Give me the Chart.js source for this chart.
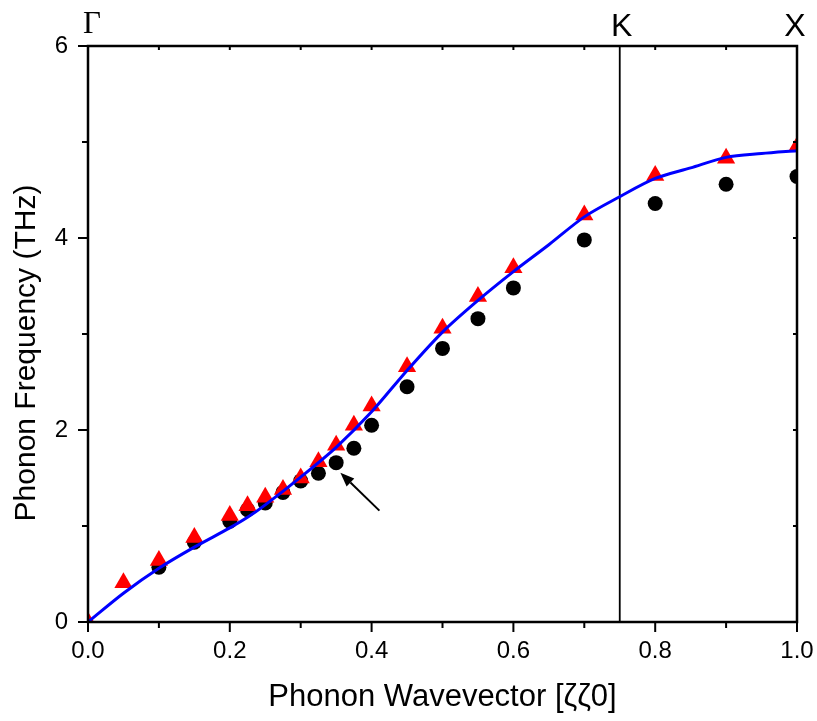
<!DOCTYPE html>
<html>
<head>
<meta charset="utf-8">
<script src="https://cdn.jsdelivr.net/npm/chart.js@4.4.0/dist/chart.umd.min.js"></script>
<style>
  body { margin: 0; background: #fff; }
  #wrap { width: 817px; height: 721px; }
</style>
</head>
<body>
<div id="wrap"><canvas id="phononChart"></canvas></div>
<script>
// Datos (THz vs ζ)
const circleQ    = [0.1, 0.15, 0.2, 0.225, 0.25, 0.275, 0.3, 0.325, 0.35, 0.375, 0.4, 0.45, 0.5, 0.55, 0.6, 0.7, 0.8, 0.9, 1.0];
const circleFreq = [0.57, 0.83, 1.05, 1.17, 1.24, 1.35, 1.47, 1.55, 1.66, 1.81, 2.05, 2.45, 2.85, 3.16, 3.48, 3.98, 4.36, 4.56, 4.64];

const triangleQ    = [0, 0.05, 0.1, 0.15, 0.2, 0.225, 0.25, 0.275, 0.3, 0.325, 0.35, 0.375, 0.4, 0.45, 0.5, 0.55, 0.6, 0.7, 0.8, 0.9, 1.0];
const triangleFreq = [0, 0.41, 0.64, 0.88, 1.11, 1.21, 1.30, 1.38, 1.50, 1.67, 1.84, 2.05, 2.25, 2.66, 3.06, 3.39, 3.69, 4.24, 4.65, 4.83, 4.95];

const curveQ    = [0, 0.05, 0.1, 0.15, 0.2, 0.225, 0.25, 0.3, 0.35, 0.4, 0.45, 0.5, 0.55, 0.6, 0.65, 0.7, 0.75, 0.8, 0.85, 0.9, 0.95, 1.0];
const curveFreq = [0, 0.30, 0.56, 0.78, 0.98, 1.09, 1.22, 1.51, 1.82, 2.19, 2.62, 3.02, 3.35, 3.65, 3.93, 4.22, 4.43, 4.62, 4.73, 4.84, 4.88, 4.91];

// Línea vertical en el punto K
const kLineQ    = [0.75, 0.75];
const kLineFreq = [0, 6];

// Ejes
const xTickValues = [0, 0.2, 0.4, 0.6, 0.8, 1.0];
const yTickValues = [0, 2, 4, 6];
const yTitle = 'Phonon Frequency (THz)';

// Puntos de simetría y flecha
const symmetryLabels = ['Γ', 'K', 'X'];
const symmetryQ      = [0, 0.75, 1.0];
const arrowTail = [0.411, 1.16];
const arrowHead = [0.356, 1.555];

const SANS = '"Liberation Sans", Arial, sans-serif';
const SERIF = '"Liberation Serif", "Times New Roman", serif';

const toPoints = (xs, ys) => xs.map((v, i) => ({ x: v, y: ys[i] }));

// Marco, ticks, título Y, etiquetas de simetría y flecha
const framePlugin = {
    id: 'framePlugin',
    afterDraw(chart) {
        const { ctx, chartArea: a, scales: { x, y } } = chart;
        ctx.save();
        ctx.strokeStyle = '#000';
        ctx.fillStyle = '#000';

        // ticks
        ctx.lineWidth = 2;
        ctx.beginPath();
        for (let i = 0; i <= 10; i++) {
            const px = x.getPixelForValue(i / 10);
            const len = i % 2 === 0 ? 10 : 6;
            ctx.moveTo(px, a.bottom); ctx.lineTo(px, a.bottom + len);
            ctx.moveTo(px, a.top); ctx.lineTo(px, a.top + 4);
        }
        for (let j = 0; j <= 6; j++) {
            const py = y.getPixelForValue(j);
            const len = j % 2 === 0 ? 10 : 6;
            ctx.moveTo(a.left, py); ctx.lineTo(a.left - len, py);
            ctx.moveTo(a.right, py); ctx.lineTo(a.right - 4, py);
        }
        ctx.stroke();

        // marco
        ctx.lineWidth = 2.5;
        ctx.strokeRect(a.left, a.top, a.right - a.left, a.bottom - a.top);

        // título del eje Y (algo por debajo del centro, como en el original)
        ctx.save();
        ctx.translate(27, 353);
        ctx.rotate(-Math.PI / 2);
        ctx.font = '30px ' + SANS;
        ctx.textAlign = 'center';
        ctx.textBaseline = 'middle';
        ctx.fillText(yTitle, 0, 0);
        ctx.restore();

        // Γ, K, X
        ctx.textBaseline = 'alphabetic';
        symmetryLabels.forEach((lab, i) => {
            const px = x.getPixelForValue(symmetryQ[i]);
            if (lab === 'Γ') {
                ctx.font = '31px ' + SERIF;
                ctx.textAlign = 'left';
                ctx.fillText(lab, px - 5, 33);
            } else {
                ctx.font = '32px ' + SANS;
                ctx.textAlign = 'center';
                ctx.fillText(lab, px + (i === 2 ? -2 : 2), 36);
            }
        });

        // flecha
        const tx = x.getPixelForValue(arrowTail[0]), ty = y.getPixelForValue(arrowTail[1]);
        const hx = x.getPixelForValue(arrowHead[0]), hy = y.getPixelForValue(arrowHead[1]);
        const ang = Math.atan2(hy - ty, hx - tx);
        const headLen = 14, headW = 5.5;
        const bx = hx - headLen * Math.cos(ang), by = hy - headLen * Math.sin(ang);
        ctx.lineWidth = 2;
        ctx.beginPath();
        ctx.moveTo(tx, ty); ctx.lineTo(bx, by);
        ctx.stroke();
        ctx.beginPath();
        ctx.moveTo(hx, hy);
        ctx.lineTo(bx + headW * Math.sin(ang), by - headW * Math.cos(ang));
        ctx.lineTo(bx - headW * Math.sin(ang), by + headW * Math.cos(ang));
        ctx.closePath();
        ctx.fill();
        ctx.restore();
    }
};

new Chart(document.getElementById('phononChart'), {
    type: 'scatter',
    data: {
        datasets: [
            {
                label: 'calc',
                type: 'line',
                data: toPoints(curveQ, curveFreq),
                borderColor: '#0000ff',
                borderWidth: 3,
                pointRadius: 0,
                tension: 0.3,
                fill: false
            },
            {
                label: 'triangles',
                data: toPoints(triangleQ, triangleFreq),
                pointStyle: 'triangle',
                pointRadius: 10.5,
                backgroundColor: '#ff0000',
                borderColor: '#ff0000',
                borderWidth: 0
            },
            {
                label: 'circles',
                data: toPoints(circleQ, circleFreq),
                pointStyle: 'circle',
                pointRadius: 7.5,
                backgroundColor: '#000',
                borderColor: '#000',
                borderWidth: 0
            },
            {
                label: 'K',
                type: 'line',
                data: toPoints(kLineQ, kLineFreq),
                borderColor: '#000',
                borderWidth: 1.8,
                pointRadius: 0
            }
        ]
    },
    options: {
        responsive: true,
        maintainAspectRatio: false,
        animation: false,
        layout: { padding: { top: 46, right: 20, left: 0, bottom: 0 } },
        plugins: {
            legend: { display: false },
            tooltip: { enabled: false }
        },
        scales: {
            x: {
                type: 'linear',
                min: 0,
                max: 1,
                afterFit: s => { s.height = 99; s.paddingLeft = 0; s.paddingRight = 0; },
                afterBuildTicks: s => { s.ticks = xTickValues.map(v => ({ value: v })); },
                grid: { display: false, drawTicks: false },
                border: { display: false },
                ticks: {
                    color: '#000',
                    padding: 15,
                    maxRotation: 0,
                    font: { family: SANS, size: 24 },
                    callback: v => Number(v).toFixed(1)
                },
                title: {
                    display: true,
                    text: 'Phonon Wavevector [ζζ0]',
                    color: '#000',
                    font: { family: SANS, size: 31 },
                    padding: { top: 0, bottom: 5 }
                }
            },
            y: {
                min: 0,
                max: 6,
                afterFit: s => { s.width = 88; s.paddingTop = 0; s.paddingBottom = 0; },
                afterBuildTicks: s => { s.ticks = yTickValues.map(v => ({ value: v })); },
                grid: { display: false, drawTicks: false },
                border: { display: false },
                ticks: {
                    color: '#000',
                    padding: 20,
                    font: { family: SANS, size: 24 },
                    callback: v => String(v)
                },
                title: { display: false }
            }
        }
    },
    plugins: [framePlugin]
});
</script>
</body>
</html>
